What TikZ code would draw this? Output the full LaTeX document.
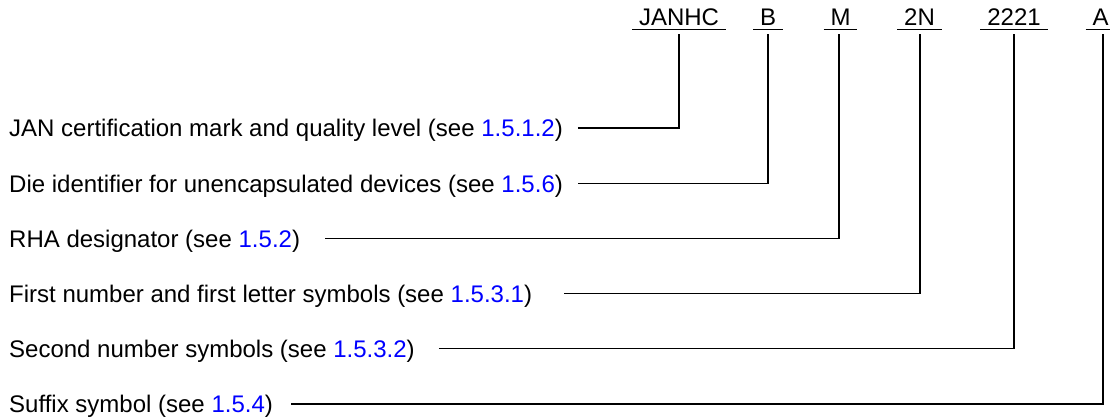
\documentclass[tikz,border=0pt]{standalone}
\usepackage{fontspec}
\setmainfont{Liberation Sans}
\usetikzlibrary{calc}
\definecolor{linkblue}{RGB}{0,0,255}
\begin{document}
\begin{tikzpicture}[x=1pt,y=-1pt,
  lbl/.style={anchor=base west, inner sep=0pt, font=\fontsize{24}{28}\selectfont},
  hdr/.style={anchor=base, inner sep=0pt, font=\fontsize{24}{28}\selectfont},
  conn/.style={line width=1.3pt},
  ul/.style={line width=1.5pt}]
\useasboundingbox (0,0) rectangle (1112,419);
% header
\node[hdr] (h1) at (679,26) {JANHC};
\node[hdr] (h2) at (768,26) {B};
\node[hdr] (h3) at (840.5,26) {M};
\node[hdr] (h4) at (919.5,26) {2N};
\node[hdr] (h5) at (1014,26) {2221};
\node[hdr] (h6) at (1100.5,26) {A};
\foreach \h in {h1,h2,h3,h4,h5}{
  \draw[ul] ($(\h.base west)+(-6.7,3.5)$) -- ($(\h.base east)+(6.7,3.5)$);
}
\draw[ul] ($(h6.base west)+(-6.7,3.5)$) -- ($(h6.base east)+(1,3.5)$);
% labels
\node[lbl] (l1) at (9,137) {JAN certification mark and quality level (see \textcolor{linkblue}{1.5.1.2})};
\node[lbl] (l2) at (9,192.2) {Die identifier for unencapsulated devices (see \textcolor{linkblue}{1.5.6})};
\node[lbl] (l3) at (9,247.4) {RHA designator (see \textcolor{linkblue}{1.5.2})};
\node[lbl] (l4) at (9,302.6) {First number and first letter symbols (see \textcolor{linkblue}{1.5.3.1})};
\node[lbl] (l5) at (9,357.8) {Second number symbols (see \textcolor{linkblue}{1.5.3.2})};
\node[lbl] (l6) at (9,413) {Suffix symbol (see \textcolor{linkblue}{1.5.4})};
% connector ends
\coordinate (s1) at ($(l1.base east)+(15,-9)$);
\coordinate (s2) at ($(l2.base east)+(15,-9)$);
\coordinate (s3) at ($(l3.base east)+(25,-9)$);
\coordinate (s4) at ($(l4.base east)+(32,-9)$);
\coordinate (s5) at ($(l5.base east)+(24,-9)$);
\coordinate (s6) at ($(l6.base east)+(18,-9)$);
\coordinate (t1) at (679,34);
\coordinate (t2) at (768,34);
\coordinate (t3) at (839,34);
\coordinate (t4) at (920,34);
\coordinate (t5) at (1014,34);
\coordinate (t6) at (1103,34);
\foreach \i in {1,...,6}{
  \draw[conn] (s\i) -| (t\i);
}
\end{tikzpicture}
\end{document}
